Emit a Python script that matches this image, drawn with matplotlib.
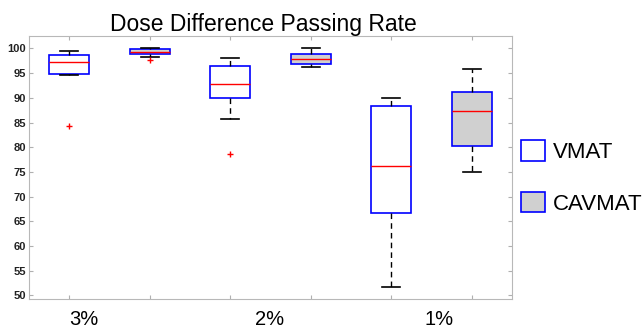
import matplotlib
matplotlib.use('Agg')
from matplotlib import pyplot as plt
from matplotlib.patches import Patch
import matplotlib.transforms as mtransforms

plt.rcParams['font.family'] = ['Liberation Sans', 'DejaVu Sans']

# box statistics, order: VMAT 3%, CAVMAT 3%, VMAT 2%, CAVMAT 2%, VMAT 1%, CAVMAT 1%
groups = ['3%', '2%', '1%']
series = ['VMAT', 'CAVMAT']
whis_hi = [99.45, 100.0, 98.0, 100.0, 89.9, 95.9]
q3 = [98.6, 99.8, 96.5, 98.85, 88.3, 91.2]
medians = [97.3, 99.25, 92.7, 97.8, 76.2, 87.25]
q1 = [94.9, 98.9, 89.9, 96.9, 66.7, 80.2]
whis_lo = [94.7, 98.3, 85.8, 96.15, 51.7, 74.9]
fliers = [[84.2], [97.7], [78.6], [], [], []]

stats = []
for i in range(len(medians)):
    stats.append({'med': medians[i], 'q1': q1[i], 'q3': q3[i],
                  'whislo': whis_lo[i], 'whishi': whis_hi[i], 'fliers': fliers[i]})

fig = plt.figure(figsize=(6.44, 3.28), dpi=100)
ax = fig.add_axes([0.045, 0.088, 0.750, 0.802])

positions = list(range(1, len(stats) + 1))
bp = ax.bxp(stats, positions=positions, widths=0.5, patch_artist=True,
            boxprops=dict(edgecolor='#0000ff', linewidth=1.2),
            medianprops=dict(color='#ff0000', linewidth=1.0),
            whiskerprops=dict(color='black', linestyle=(0, (4, 3)), linewidth=1.0),
            capprops=dict(color='black', linewidth=1.2),
            flierprops=dict(marker='+', markeredgecolor='#ff0000', markersize=4, linestyle='none'),
            capwidths=0.22)
for i, box in enumerate(bp['boxes']):
    box.set_facecolor('white' if i % 2 == 0 else '#d0d0d0')

ax.set_xlim(0.5, 6.5)
ax.set_ylim(49.25, 102.5)
ax.set_yticks(range(50, 101, 5))
ax.set_xticks(positions)
ax.set_xticklabels([])
ax.tick_params(axis='both', direction='in', top=True, right=True, length=3,
               color='#b0b0b0', labelsize=8)
for lab in ax.get_yticklabels():
    lab.set_fontweight('bold')
    lab.set_color('#222222')
ax.tick_params(axis='y', pad=2)
for s in ax.spines.values():
    s.set_color('#b8b8b8')

# group labels under the axis
label_x = [1.185, 3.49, 5.59]
trans = mtransforms.blended_transform_factory(ax.transData, ax.transAxes)
for x, g in zip(label_x, groups):
    ax.text(x, -0.04, g, transform=trans, ha='center', va='top', fontsize=14.5)

ax.set_title('Dose Difference Passing Rate', fontsize=16.5, pad=3, x=0.485)

handles = [Patch(facecolor='white', edgecolor='#0000ff', linewidth=1.2),
           Patch(facecolor='#d0d0d0', edgecolor='#0000ff', linewidth=1.2)]
fig.legend(handles, series, loc='upper left', bbox_to_anchor=(0.795, 0.60),
           frameon=False, fontsize=16, handlelength=1.1, handleheight=1.05,
           handletextpad=0.35, labelspacing=1.3, borderaxespad=0)

plt.savefig('out.png', dpi=100)
